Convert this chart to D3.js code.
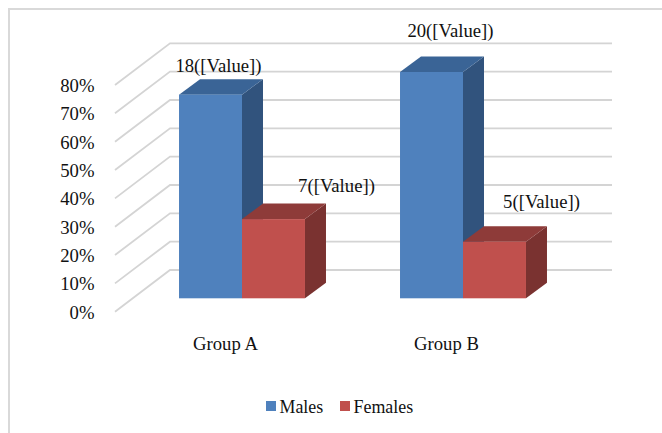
<!DOCTYPE html>
<html>
<head>
<meta charset="utf-8">
<style>
  html, body { margin: 0; padding: 0; background: #fff; }
  svg { display: block; }
  text { font-family: "Liberation Serif", serif; font-size: 18.7px; fill: #111; }
  .legend text { font-size: 17.9px; }
</style>
<script src="https://cdn.jsdelivr.net/npm/d3@7/dist/d3.min.js"></script>
</head>
<body>
<div id="chart"></div>
<script>
const groups = ["Group A", "Group B"];
const seriesNames = ["Males", "Females"];
const malesPct = [72, 80];
const femalesPct = [28, 20];
const malesLabels = ["18([Value])", "20([Value])"];
const femalesLabels = ["7([Value])", "5([Value])"];
const yTicks = [0, 10, 20, 30, 40, 50, 60, 70, 80];

const width = 662;
const height = 433;

/** Fake 3D: how far the bar backs sit from their fronts */
const depth = { dx: 21, dy: 15.5 };

const colors = {
  Males: { front: "#4f81bd", top: "#3a6496", side: "#31537d" },
  Females: { front: "#c0504d", top: "#8e3b39", side: "#7a3230" },
};

const svg = d3
  .select("#chart")
  .append("svg")
  .attr("width", width)
  .attr("height", height);

/** Frame, only top and left show in the picture */
svg
  .append("path")
  .attr("d", "M9,433V9H662")
  .attr("fill", "none")
  .attr("stroke", "#d9d9d9")
  .attr("stroke-width", 2);

/** Scales: one y per plane of the box */
const yFront = d3.scaleLinear().domain([0, 80]).range([311.7, 85]);
const yBack = d3.scaleLinear().domain([0, 80]).range([270, 43.3]);
const yBar = d3.scaleLinear().domain([0, 80]).range([298.3, 72]);

const xGroup = d3
  .scaleBand()
  .domain(groups)
  .range([131.5, 573.5])
  .paddingInner(0.43)
  .paddingOuter(0.215);
const xSeries = d3
  .scaleBand()
  .domain(seriesNames)
  .range([0, xGroup.bandwidth()]);

/** Grid: side wall then back wall */
const grid = svg.append("g").attr("stroke", "#d4d4d4").attr("fill", "none");
grid
  .selectAll("path")
  .data(yTicks)
  .enter()
  .append("path")
  .attr("stroke-width", 1.8)
  .attr("d", (d) => `M115,${yFront(d)}L170,${yBack(d)}H612`);

/** Axis */
const yAxis = d3
  .axisLeft(yFront)
  .tickValues(yTicks)
  .tickSize(0)
  .tickPadding(0)
  .tickFormat((d) => d + "%");
const axisG = svg
  .append("g")
  .attr("transform", "translate(94.5,0.5)")
  .call(yAxis);
axisG.select(".domain").remove();
axisG.attr("font-family", null).attr("font-size", null);

/** Bars */
const bars = [];
groups.forEach((g, i) => {
  bars.push({ group: g, key: "Males", value: malesPct[i] });
  bars.push({ group: g, key: "Females", value: femalesPct[i] });
});

const barG = svg
  .selectAll(".bar")
  .data(bars)
  .enter()
  .append("g")
  .attr("class", "bar");

const x0 = (d) => xGroup(d.group) + xSeries(d.key);
const x1 = (d) => x0(d) + xSeries.bandwidth();

barG
  .append("path")
  .attr("fill", (d) => colors[d.key].side)
  .attr("d", (d) => {
    const top = yBar(d.value);
    const bottom = yBar(0);
    return `M${x1(d)},${top}l${depth.dx},${-depth.dy}V${bottom - depth.dy}L${x1(d)},${bottom}Z`;
  });
barG
  .append("path")
  .attr("fill", (d) => colors[d.key].top)
  .attr("d", (d) => {
    const top = yBar(d.value);
    return `M${x0(d)},${top}l${depth.dx},${-depth.dy}H${x1(d) + depth.dx}L${x1(d)},${top}Z`;
  });
barG
  .append("rect")
  .attr("fill", (d) => colors[d.key].front)
  .attr("x", x0)
  .attr("y", (d) => yBar(d.value))
  .attr("width", xSeries.bandwidth())
  .attr("height", (d) => yBar(0) - yBar(d.value));

/** Value labels were dragged by hand in the original, so each has its own nudge */
const labelNudge = [
  { dx: 8, dy: -23 },
  { dx: 63, dy: -27 },
  { dx: 19, dy: -35 },
  { dx: 47, dy: -34 },
];
const valueLabels = [];
groups.forEach((g, i) => {
  valueLabels.push(malesLabels[i]);
  valueLabels.push(femalesLabels[i]);
});
svg
  .selectAll(".value-label")
  .data(bars)
  .enter()
  .append("text")
  .attr("class", "value-label")
  .attr("text-anchor", "middle")
  .attr("x", (d, i) => (x0(d) + x1(d)) / 2 + labelNudge[i].dx)
  .attr("y", (d, i) => yBar(d.value) + labelNudge[i].dy)
  .text((d, i) => valueLabels[i]);

/** Category labels */
svg
  .selectAll(".group-label")
  .data(groups)
  .enter()
  .append("text")
  .attr("class", "group-label")
  .attr("text-anchor", "middle")
  .attr("x", (d) => xGroup(d) + xGroup.bandwidth() / 2 - 16.5)
  .attr("y", 350)
  .text((d) => d);

/** Legend */
const legendX = d3.scaleOrdinal().domain(seriesNames).range([266, 340]);
const legend = svg
  .selectAll(".legend")
  .data(seriesNames)
  .enter()
  .append("g")
  .attr("class", "legend")
  .attr("transform", (d) => `translate(${legendX(d)},401)`);
legend
  .append("rect")
  .attr("width", 10)
  .attr("height", 10)
  .attr("fill", (d) => colors[d].front);
legend
  .append("text")
  .attr("x", 13.5)
  .attr("y", 11.5)
  .text((d) => d);
</script>
</body>
</html>
